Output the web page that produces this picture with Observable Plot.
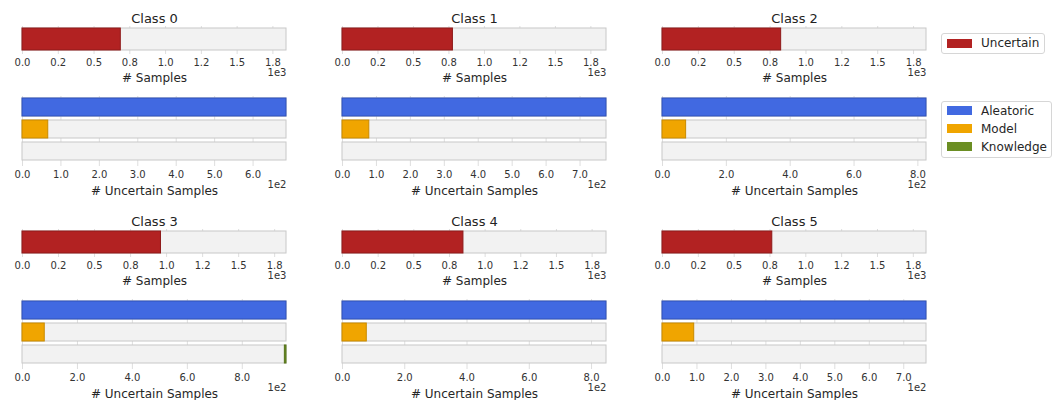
<!DOCTYPE html>
<html>
<head>
<meta charset="utf-8">
<script src="https://cdn.jsdelivr.net/npm/d3@7"></script>
<script src="https://cdn.jsdelivr.net/npm/@observablehq/plot@0.6"></script>
<style>
  body { margin: 0; background: #fff; font-family: "DejaVu Sans", sans-serif; }
  #chart { position: relative; width: 1058px; height: 400px; overflow: hidden; }
  .panel { position: absolute; }
  .legend-box { position: absolute; border: 1px solid #d6d6d6; border-radius: 3px; background: #fff; padding: 0 0 0 5px; box-sizing: border-box; }
  .lg-swatches { font-family: "DejaVu Sans", sans-serif !important; font-size: 12px !important; color: #262626 !important; margin: 0 !important; }
  .lg-swatch { height: 18px; padding-bottom: 0 !important; display: flex; align-items: center; }
  .lg-swatch > svg { margin-right: 9px !important; }
  .lg-swatch-label { overflow: visible !important; text-overflow: clip !important; }
</style>
</head>
<body>
<div id="chart"></div>
<script>
// Per-class counts
const classNames   = ["Class 0", "Class 1", "Class 2", "Class 3", "Class 4", "Class 5"];
const totalSamples = [1845, 1860, 1840, 1832, 1851, 1842];
const uncertain    = [687, 778, 827, 961, 848, 766];
const aleatoric    = [687, 778, 827, 961, 848, 766];
const model        = [67, 79, 74, 81, 78, 92];
const knowledge    = [0, 0, 0, 6, 0, 0];

// Axis ticks and their labels (values shown in units of 1e3 / 1e2)
const sampleTicks      = [0, 250, 500, 750, 1000, 1250, 1500, 1750];
const sampleTickLabels = ["0.0", "0.2", "0.5", "0.8", "1.0", "1.2", "1.5", "1.8"];
const uncertainTicks = [
  [0, 100, 200, 300, 400, 500, 600],
  [0, 100, 200, 300, 400, 500, 600, 700],
  [0, 200, 400, 600, 800],
  [0, 200, 400, 600, 800],
  [0, 200, 400, 600, 800],
  [0, 100, 200, 300, 400, 500, 600, 700]
];
const uncertainTickLabels = [
  ["0.0", "1.0", "2.0", "3.0", "4.0", "5.0", "6.0"],
  ["0.0", "1.0", "2.0", "3.0", "4.0", "5.0", "6.0", "7.0"],
  ["0.0", "2.0", "4.0", "6.0", "8.0"],
  ["0.0", "2.0", "4.0", "6.0", "8.0"],
  ["0.0", "2.0", "4.0", "6.0", "8.0"],
  ["0.0", "1.0", "2.0", "3.0", "4.0", "5.0", "6.0", "7.0"]
];
const kinds = ["Aleatoric", "Model", "Knowledge"];

const colors = {
  Uncertain: {fill: "#b22222", stroke: "#8e1a1a"},
  Aleatoric: {fill: "#4169e1", stroke: "#3152b8"},
  Model:     {fill: "#f0a500", stroke: "#c88a00"},
  Knowledge: {fill: "#6b8e23", stroke: "#557219"}
};

const textStyle = {fontFamily: "DejaVu Sans, sans-serif", color: "#333", background: "transparent", overflow: "visible"};
const chart = document.getElementById("chart");

function place(node, left, top) {
  node.classList.add("panel");
  node.style.left = left + "px";
  node.style.top = top + "px";
  chart.appendChild(node);
}

// Total vs. uncertain samples for one class
function samplesPanel(i) {
  const labelOf = new Map(sampleTicks.map((t, k) => [t, sampleTickLabels[k]]));
  return Plot.plot({
    width: 316, height: 84,
    marginLeft: 22, marginRight: 30, marginTop: 25, marginBottom: 34,
    style: textStyle,
    x: {domain: [0, totalSamples[i]], axis: null},
    y: {domain: ["Samples"], paddingInner: 0, paddingOuter: 0.065, axis: null},
    marks: [
      Plot.ruleX(sampleTicks, {x: d => d, stroke: "#dedede", insetBottom: -3}),
      Plot.barX([totalSamples[i]], {x1: 0, x2: d => d, y: () => "Samples", fill: "#f2f2f2", stroke: "#c8c8c8"}),
      Plot.barX([uncertain[i]].filter(v => v > 0), {x1: 0, x2: d => d, y: () => "Samples", fill: colors.Uncertain.fill, stroke: colors.Uncertain.stroke}),
      Plot.axisX({ticks: sampleTicks, tickFormat: v => labelOf.get(v), tickSize: 0, tickPadding: 7, fontSize: 10, fill: "#333", label: null}),
      Plot.text([classNames[i]], {text: d => d, frameAnchor: "top", dy: -8, fontSize: 13, fill: "#222", lineAnchor: "middle"}),
      Plot.text(["# Samples"], {text: d => d, frameAnchor: "bottom", dy: 27, fontSize: 12, fill: "#262626", lineAnchor: "middle"}),
      Plot.text(["1e3"], {text: d => d, frameAnchor: "bottom-right", dy: 21.5, textAnchor: "end", fontSize: 10, fill: "#333", lineAnchor: "middle"})
    ]
  });
}

// Breakdown of the uncertain samples by uncertainty type
function uncertainPanel(i) {
  const ticks = uncertainTicks[i];
  const labelOf = new Map(ticks.map((t, k) => [t, uncertainTickLabels[i][k]]));
  const values = [
    {kind: "Aleatoric", value: aleatoric[i], from: "left"},
    {kind: "Model", value: model[i], from: "left"},
    {kind: "Knowledge", value: knowledge[i], from: "right"}
  ].filter(d => d.value > 0);
  const total = uncertain[i];
  return Plot.plot({
    width: 316, height: 106,
    marginLeft: 22, marginRight: 30, marginTop: 3, marginBottom: 36,
    style: textStyle,
    x: {domain: [0, total], axis: null},
    y: {domain: kinds, paddingInner: 0.17, paddingOuter: 0.08, axis: null},
    marks: [
      Plot.ruleX(ticks, {x: d => d, stroke: "#dedede", insetBottom: -3}),
      Plot.barX(kinds, {x1: 0, x2: () => total, y: d => d, fill: "#f2f2f2", stroke: "#c8c8c8"}),
      Plot.barX(values, {
        x1: d => d.from === "left" ? 0 : total - d.value,
        x2: d => d.from === "left" ? d.value : total,
        y: "kind",
        fill: d => colors[d.kind].fill,
        stroke: d => colors[d.kind].stroke
      }),
      Plot.axisX({ticks, tickFormat: v => labelOf.get(v), tickSize: 0, tickPadding: 7, fontSize: 10, fill: "#333", label: null}),
      Plot.text(["# Uncertain Samples"], {text: d => d, frameAnchor: "bottom", dy: 28, fontSize: 12, fill: "#262626", lineAnchor: "middle"}),
      Plot.text(["1e2"], {text: d => d, frameAnchor: "bottom-right", dy: 21.6, textAnchor: "end", fontSize: 10, fill: "#333", lineAnchor: "middle"})
    ]
  });
}

const colLeft = [0, 320, 640];
const rowTop = [0, 203];
classNames.forEach((_, i) => {
  const c = i % 3, r = Math.floor(i / 3);
  place(samplesPanel(i), colLeft[c], rowTop[r] + 0.5);
  place(uncertainPanel(i), colLeft[c], rowTop[r] + 92.7);
});

// Legends
function legendBox(domain, left, top, width, height) {
  const box = document.createElement("div");
  box.className = "legend-box";
  box.style.left = left + "px";
  box.style.top = top + "px";
  box.style.width = width + "px";
  box.style.height = height + "px";
  const lg = Plot.legend({
    color: {type: "ordinal", domain, range: domain.map(k => colors[k].fill)},
    legend: "swatches",
    columns: 1,
    swatchWidth: 25,
    swatchHeight: 9,
    className: "lg"
  });
  box.appendChild(lg);
  chart.appendChild(box);
}
legendBox(["Uncertain"], 941, 33, 104, 21);
legendBox(["Aleatoric", "Model", "Knowledge"], 941, 100.5, 111, 57);
</script>
</body>
</html>
